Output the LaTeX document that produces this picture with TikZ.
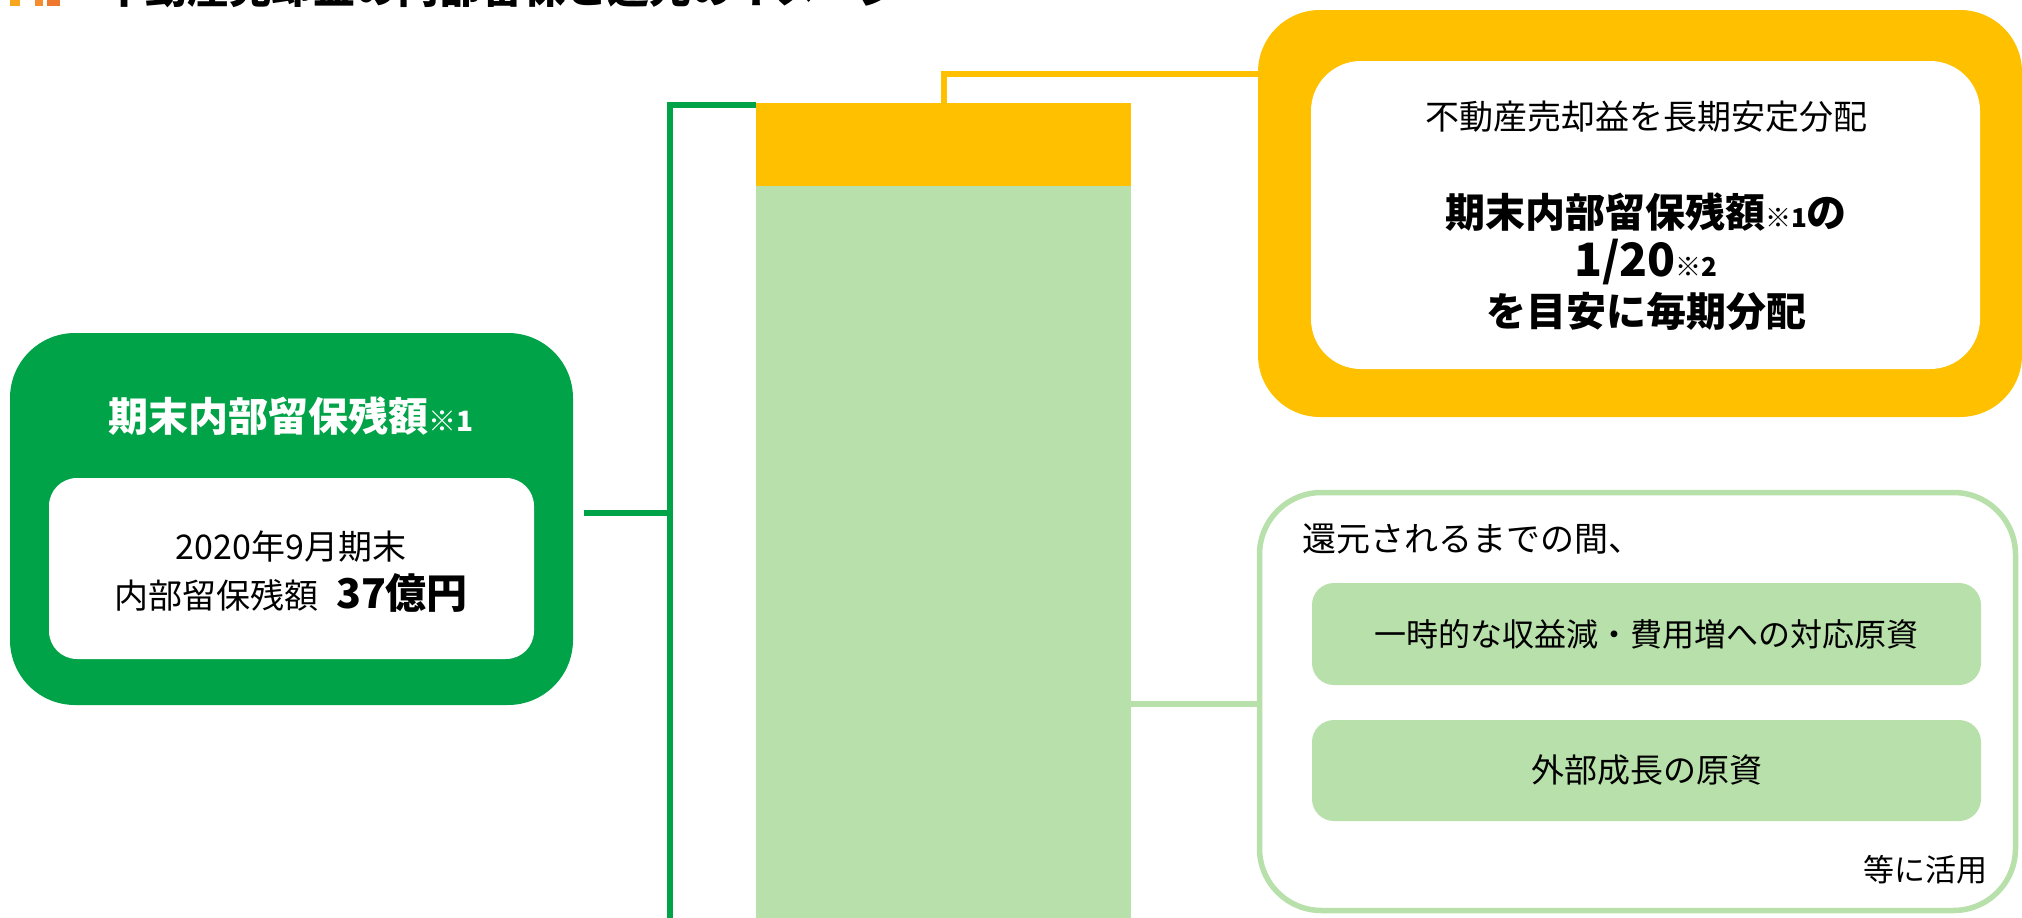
\documentclass[tikz,border=0pt]{standalone}
\usepackage{fontspec}
\setmainfont{Noto Sans CJK JP}
\usetikzlibrary{calc}
\definecolor{dgreen}{RGB}{0,163,71}
\definecolor{amber}{RGB}{255,192,0}
\definecolor{lgreen}{RGB}{184,224,170}
\definecolor{icA}{RGB}{248,166,30}
\definecolor{icB}{RGB}{245,140,45}
\definecolor{icC}{RGB}{240,120,45}
\tikzset{
  box/.style={rectangle, inner sep=0pt, outer sep=0pt, anchor=north west},
  gline/.style={draw=dgreen, line width=5.5pt},
  oline/.style={draw=amber, line width=5.5pt},
  lline/.style={draw=lgreen, line width=5.5pt},
  reg/.style={font=\fontsize{34}{40}\selectfont, inner sep=0pt},
  bld/.style={font=\bfseries\fontsize{40}{46}\selectfont, inner sep=0pt},
}
\newcommand{\smallnote}[2][26]{{\fontsize{#1}{#1}\selectfont #2}}
\begin{document}
\begin{tikzpicture}[x=1pt,y=-1pt]
\useasboundingbox (0,0) rectangle (2022,918);
\clip (0,0) rectangle (2022,918);

% title (cut off at top)
\fill[icA] (10,-30) rectangle (20,6);
\fill[icB] (35,-30) rectangle (43,6);
\fill[icC] (47,-30) rectangle (60,6);
\node[anchor=base west, font=\bfseries\fontsize{42}{42}\selectfont, inner sep=0pt] (title) at (103,3) {不動産売却益の内部留保と還元のイメージ};

% source box
\node[box, fill=dgreen, rounded corners=65pt, minimum width=563pt, minimum height=372pt] (src) at (10,333) {};
\node[box, fill=white, rounded corners=28pt, minimum width=485pt, minimum height=181pt] (srcIn) at (49,478) {};
\node[bld, text=white] (srcT) at (291,416) {期末内部留保残額\smallnote[28]{※1}};
\node[reg] (srcL1) at (291,547) {2020年9月期末};
\node[reg] (srcL2) at (291,593) {内部留保残額\hspace{18pt}{\bfseries\fontsize{41}{44}\selectfont 37億円}};

% bar
\node[box, fill=amber, minimum width=375pt, minimum height=83pt] (resv) at (756,103) {};
\node[box, fill=lgreen, minimum width=375pt, minimum height=760pt] (ret) at (756,186) {};

% green bracket
\coordinate (brB) at (670,940);
\coordinate (stub) at (670,513);
\draw[gline] ($(resv.north west)+(0,2)$) -| (brB);
\draw[gline] ($(src.east)+(11,-6)$) -- (stub);

% yellow box
\node[box, fill=amber, rounded corners=62pt, minimum width=764pt, minimum height=407pt] (yel) at (1258,10) {};
\node[box, fill=white, rounded corners=50pt, minimum width=669pt, minimum height=308pt] (yelIn) at (1311,61) {};
\node[reg] (yT1) at (1646,117) {不動産売却益を長期安定分配};
\node[bld] (yT2) at (1646,212) {期末内部留保残額\smallnote{※1}の};
\node[bld, font=\bfseries\fontsize{46}{50}\selectfont] (yT3) at (1646,262) {1/20\smallnote{※2}};
\node[bld] (yT4) at (1646,311) {を目安に毎期分配};

% orange connector
\coordinate (oy) at (0,74);
\draw[oline] ($(resv.north west)+(188,0)$) |- (yel.west |- oy);

% lower right box
\node[box, draw=lgreen, line width=5.5pt, fill=white, rounded corners=62pt, minimum width=756pt, minimum height=418pt] (use) at (1259.5,492.5) {};
\node[reg, anchor=west] (uT) at (1302,539) {還元されるまでの間、};
\node[box, fill=lgreen, rounded corners=22pt, minimum width=669pt, minimum height=102pt] (b1) at (1312,583) {};
\node[reg, font=\fontsize{32}{38}\selectfont] (b1T) at (b1.center) {一時的な収益減・費用増への対応原資};
\node[box, fill=lgreen, rounded corners=22pt, minimum width=669pt, minimum height=101pt] (b2) at (1312,720) {};
\node[reg, font=\fontsize{33}{38}\selectfont] (b2T) at (b2.center) {外部成長の原資};
\node[reg, anchor=east, font=\fontsize{31}{36}\selectfont] (uE) at (1988,870) {等に活用};

% light green connector
\coordinate (ly) at (0,704);
\draw[lline] (ret.east |- ly) -- (use.west |- ly);
\end{tikzpicture}
\end{document}
